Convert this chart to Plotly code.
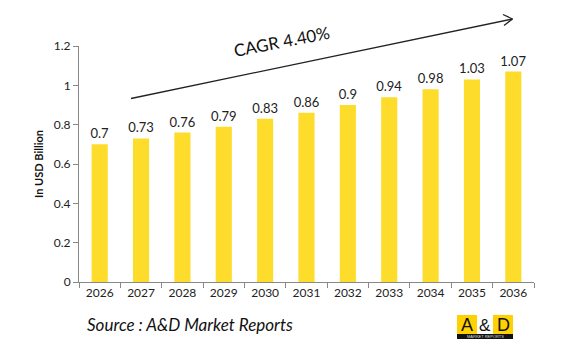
import plotly.graph_objects as go

years = ["2026", "2027", "2028", "2029", "2030", "2031", "2032", "2033", "2034", "2035", "2036"]
values = [0.7, 0.73, 0.76, 0.79, 0.83, 0.86, 0.9, 0.94, 0.98, 1.03, 1.07]
labels = ["0.7", "0.73", "0.76", "0.79", "0.83", "0.86", "0.9", "0.94", "0.98", "1.03", "1.07"]
y_ticks = [0, 0.2, 0.4, 0.6, 0.8, 1.0, 1.2]
y_tick_text = ["0", "0.2", "0.4", "0.6", "0.8", "1", "1.2"]
cagr_text = "CAGR 4.40%"
source_text = "Source : A&D Market Reports"

W, H = 565, 352
L, R, T, B = 79, 31, 46, 70
PW, PH = W - L - R, H - T - B

def px(x):
    return (x - L) / PW

def py(y):
    return (H - B - y) / PH

FONT = "Lato, Calibri, Carlito, sans-serif"
BAR = "#FDDC2C"

fig = go.Figure()
fig.add_trace(go.Bar(
    x=years, y=values, marker_color=BAR, marker_line_width=0,
    text=labels, textposition="outside", cliponaxis=False, constraintext="none",
    textfont=dict(family=FONT, size=13, color="#222222"),
))

shapes = []
# CAGR arrow
shapes.append(dict(type="line", xref="paper", yref="paper",
                   x0=px(131), y0=py(98.5), x1=px(512.5), y1=py(19),
                   line=dict(color="#222222", width=1.3)))
shapes.append(dict(type="line", xref="paper", yref="paper",
                   x0=px(503), y0=py(14.5), x1=px(512.5), y1=py(19),
                   line=dict(color="#222222", width=1.3)))
shapes.append(dict(type="line", xref="paper", yref="paper",
                   x0=px(504), y0=py(25.5), x1=px(512.5), y1=py(19),
                   line=dict(color="#222222", width=1.3)))
# logo
shapes.append(dict(type="rect", xref="paper", yref="paper",
                   x0=px(457), y0=py(315), x1=px(477), y1=py(334),
                   fillcolor="#FFD100", line_width=0))
shapes.append(dict(type="rect", xref="paper", yref="paper",
                   x0=px(477), y0=py(315), x1=px(493), y1=py(334),
                   fillcolor="#FFFFFF", line_width=0))
shapes.append(dict(type="rect", xref="paper", yref="paper",
                   x0=px(493), y0=py(315), x1=px(513), y1=py(334),
                   fillcolor="#FFD100", line_width=0))
shapes.append(dict(type="rect", xref="paper", yref="paper",
                   x0=px(457), y0=py(334), x1=px(513), y1=py(339),
                   fillcolor="#111111", line_width=0))

def ann(text, x, y, font, xanchor="center", textangle=0):
    return dict(text=text, xref="paper", yref="paper", x=x, y=y,
                xanchor=xanchor, yanchor="middle", showarrow=False,
                textangle=textangle, font=font)

LOGO = "Liberation Sans, Arial"
annotations = [
    ann(cagr_text, px(281), py(41), dict(family=FONT, size=17, color="#111111"), textangle=-11),
    ann(source_text, px(85), py(324), dict(family=FONT, size=17, color="#111111", style="italic"), xanchor="left"),
    ann("A", px(467), py(325), dict(family=LOGO, size=18, color="#111111")),
    ann("&amp;", px(485), py(325), dict(family=LOGO, size=17, color="#111111")),
    ann("D", px(503), py(325), dict(family=LOGO, size=18, color="#111111")),
    ann("MARKET REPORTS", px(485), py(336.5), dict(family=LOGO, size=4, color="#DDDDDD")),
]

fig.update_layout(
    width=W, height=H,
    margin=dict(l=L, r=R, t=T, b=B, pad=0),
    paper_bgcolor="white", plot_bgcolor="white",
    showlegend=False,
    bargap=0.61,
    shapes=shapes, annotations=annotations,
    font=dict(family=FONT, color="#222222"),
)
fig.update_xaxes(
    type="category", showline=True, linecolor="#888888", linewidth=1,
    ticks="outside", tickson="boundaries", ticklen=5, tickcolor="#888888",
    tickfont=dict(family=FONT, size=12, color="#222222"),
    showgrid=False, zeroline=False,
)
fig.update_yaxes(
    range=[0, 1.2], tickvals=y_ticks, ticktext=y_tick_text,
    showline=True, linecolor="#888888", linewidth=1,
    ticks="outside", ticklen=5, tickcolor="#888888",
    tickfont=dict(family=FONT, size=12, color="#222222"),
    showgrid=False, zeroline=False,
    title=dict(text="<b>In USD Billion</b>", font=dict(family=FONT, size=11, color="#111111"), standoff=7),
)

fig.write_html("out.html")
